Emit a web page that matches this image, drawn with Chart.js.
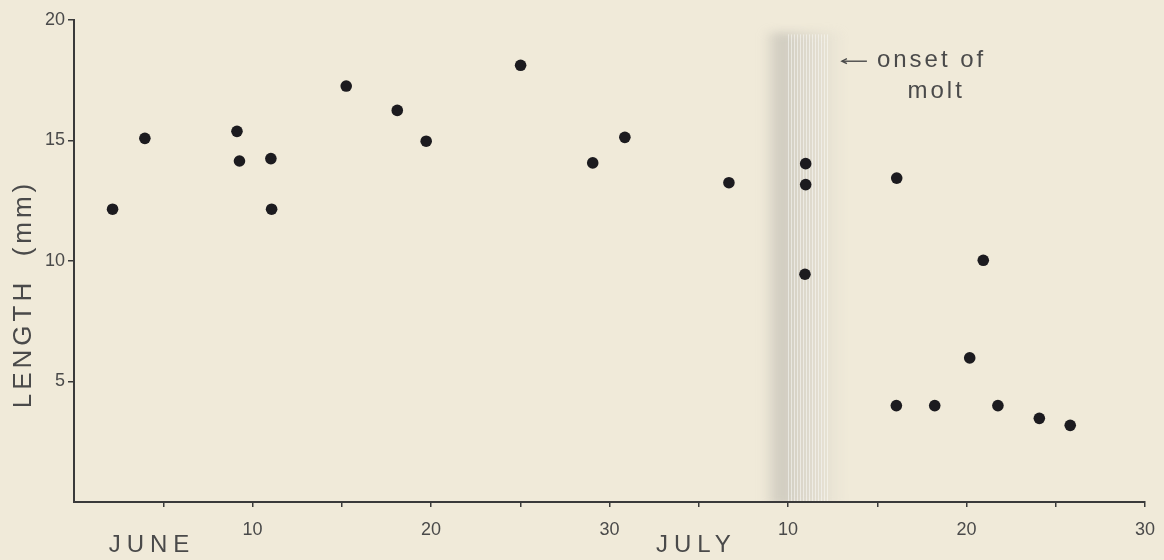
<!DOCTYPE html>
<html>
<head>
<meta charset="utf-8">
<script src="https://cdn.jsdelivr.net/npm/chart.js@4.4.1/dist/chart.umd.min.js"></script>
<style>
  html, body { margin: 0; padding: 0; background: #f0ead9; }
  #wrap { width: 1164px; height: 560px; position: relative; }
  canvas { display: block; }
</style>
</head>
<body>
<div id="wrap"><canvas id="c" width="1164" height="560"></canvas></div>
<script>
// Sampling day, counted on from 31 May (1 June = 1, 1 July = 31)
const sampleDay = [2.16, 3.97, 9.13, 9.27, 11.03, 11.07, 15.25, 18.11, 19.73, 25.02,
                   29.06, 30.86, 36.69, 40.99, 40.99, 40.95, 46.09, 50.94, 50.18, 46.07,
                   48.22, 51.76, 54.08, 55.81];
// Body length in millimetres for each sample
const lengthMm = [12.15, 15.09, 15.38, 14.15, 14.25, 12.15, 17.26, 16.25, 14.97, 18.12,
                  14.07, 15.13, 13.25, 14.04, 13.17, 9.45, 13.44, 10.03, 5.98, 4.0,
                  4.0, 4.0, 3.47, 3.18];

// Day axis: labelled every ten days, a small tick every five
const dayLabelDays = [10, 20, 30, 40, 50, 60];
const dayLabels = ['10', '20', '30', '10', '20', '30'];
const monthNames = ['JUNE', 'JULY'];
const monthCentreDay = [4.2, 34.7];
const lengthTicks = [5, 10, 15, 20];

// Period when moulting begins (days) and the note beside it
const moltBand = [38.6, 43.2];
const moltBandTop = 19.65;
const moltNote = ['onset of', 'molt'];
const moltNoteAnchor = { arrowFrom: 44.42, arrowTo: 43.02, textDay: 44.98, y: 18.29, secondLineDay: 48.3, secondLineY: 17.05 };

const points = sampleDay.map((d, i) => ({ x: d, y: lengthMm[i] }));
const ink = '#3a3a3a';
const textInk = '#4a4a4a';
const fontFamily = '"Liberation Sans", "DejaVu Sans", sans-serif';

const extras = {
  id: 'extras',
  beforeDatasetsDraw(chart) {
    const { ctx, scales: { x, y } } = chart;
    const x0 = x.getPixelForValue(moltBand[0]);
    const x1 = x.getPixelForValue(moltBand[1]);
    const yTop = y.getPixelForValue(moltBandTop);
    const yBot = y.getPixelForValue(0);
    ctx.save();
    ctx.beginPath();
    ctx.rect(x0 - 20, yTop - 10, x1 - x0 + 40, yBot - yTop + 9);
    ctx.clip();
    const g = ctx.createLinearGradient(x0, 0, x1, 0);
    g.addColorStop(0.0, 'rgba(170,168,162,0)');
    g.addColorStop(0.2, 'rgba(170,168,162,0.46)');
    g.addColorStop(0.4, 'rgba(182,180,174,0.42)');
    g.addColorStop(0.7, 'rgba(198,196,188,0.3)');
    g.addColorStop(1.0, 'rgba(205,203,195,0)');
    ctx.filter = 'blur(5px)';
    ctx.fillStyle = g;
    ctx.fillRect(x0, yTop + 4, x1 - x0, yBot - yTop);
    ctx.filter = 'none';
    // fine vertical hatching inside the band
    ctx.strokeStyle = 'rgba(250,250,247,0.55)';
    ctx.lineWidth = 1;
    const w = x1 - x0;
    for (let px = x0 + w * 0.3; px < x1 - w * 0.2; px += 3) {
      ctx.beginPath();
      ctx.moveTo(Math.round(px) + 0.5, yTop + 6);
      ctx.lineTo(Math.round(px) + 0.5, yBot - 1);
      ctx.stroke();
    }
    ctx.restore();
  },
  afterDraw(chart) {
    const { ctx, scales: { x, y }, chartArea } = chart;
    ctx.save();
    ctx.fillStyle = textInk;
    ctx.strokeStyle = textInk;

    // y-axis title
    ctx.save();
    ctx.font = '26px ' + fontFamily;
    ctx.letterSpacing = '4px';
    ctx.textAlign = 'center';
    ctx.textBaseline = 'middle';
    ctx.translate(24, 294);
    ctx.rotate(-Math.PI / 2);
    ctx.fillText('LENGTH  (mm)', 0, 0);
    ctx.restore();

    // month names under the day labels
    ctx.save();
    ctx.font = '24px ' + fontFamily;
    ctx.letterSpacing = '6px';
    ctx.textAlign = 'center';
    ctx.textBaseline = 'middle';
    monthNames.forEach((m, i) => {
      ctx.fillText(m, x.getPixelForValue(monthCentreDay[i]) + 3, chartArea.bottom + 43);
    });
    ctx.restore();

    // arrow and note for the start of moulting
    const ay = y.getPixelForValue(moltNoteAnchor.y);
    const ax0 = x.getPixelForValue(moltNoteAnchor.arrowFrom);
    const ax1 = x.getPixelForValue(moltNoteAnchor.arrowTo);
    ctx.lineWidth = 1.4;
    ctx.beginPath();
    ctx.moveTo(ax0, ay);
    ctx.lineTo(ax1, ay);
    ctx.stroke();
    ctx.beginPath();
    ctx.moveTo(ax1 + 5, ay - 2.5);
    ctx.lineTo(ax1, ay);
    ctx.lineTo(ax1 + 5, ay + 2.5);
    ctx.stroke();

    ctx.font = '24px ' + fontFamily;
    ctx.letterSpacing = '3px';
    ctx.textBaseline = 'middle';
    ctx.textAlign = 'left';
    ctx.fillText(moltNote[0], x.getPixelForValue(moltNoteAnchor.textDay), ay - 1);
    ctx.textAlign = 'center';
    ctx.fillText(moltNote[1], x.getPixelForValue(moltNoteAnchor.secondLineDay), y.getPixelForValue(moltNoteAnchor.secondLineY));
    ctx.restore();
  }
};

const hideAtZero = c => (c.tick && c.tick.value === 0) ? 'rgba(0,0,0,0)' : ink;

new Chart(document.getElementById('c'), {
  type: 'scatter',
  data: {
    datasets: [{
      data: points,
      pointRadius: 5.8,
      pointHoverRadius: 5.8,
      pointBackgroundColor: '#1c1b1f',
      pointBorderWidth: 0,
      showLine: false
    }]
  },
  options: {
    responsive: false,
    devicePixelRatio: 1,
    animation: false,
    events: [],
    layout: { padding: { top: 20, right: 19, left: 0, bottom: 0 } },
    plugins: { legend: { display: false }, tooltip: { enabled: false } },
    scales: {
      x: {
        type: 'linear',
        min: 0,
        max: 60,
        afterFit: s => { s.height = 58; s.paddingLeft = 0; s.paddingRight = 0; },
        border: { color: ink, width: 2 },
        grid: { drawOnChartArea: false, drawTicks: true, tickLength: 5, color: hideAtZero, lineWidth: 1.5 },
        ticks: {
          stepSize: 5,
          autoSkip: false,
          maxRotation: 0,
          padding: 12,
          color: textInk,
          font: { family: fontFamily, size: 18 },
          callback: v => {
            const i = dayLabelDays.indexOf(v);
            return i >= 0 ? dayLabels[i] : '';
          }
        }
      },
      y: {
        min: 0,
        max: 20,
        afterFit: s => { s.width = 74; },
        border: { color: ink, width: 2 },
        grid: { drawOnChartArea: false, drawTicks: true, tickLength: 6, color: hideAtZero, lineWidth: 1.5 },
        ticks: {
          stepSize: 5,
          padding: 3,
          color: textInk,
          font: { family: fontFamily, size: 18 },
          callback: v => lengthTicks.includes(v) ? String(v) : ''
        }
      }
    }
  },
  plugins: [extras]
});
</script>
</body>
</html>
